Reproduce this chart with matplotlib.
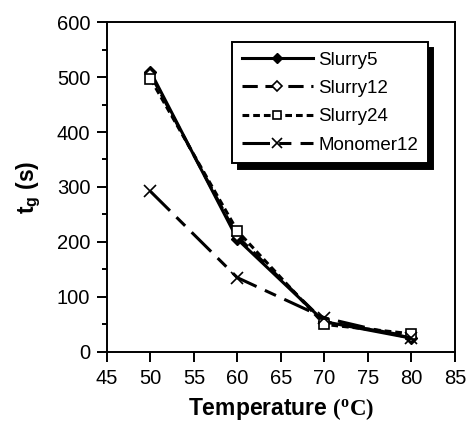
import numpy as np
import matplotlib
matplotlib.use('Agg')
import matplotlib.pyplot as plt
from matplotlib.ticker import MultipleLocator

plt.rcParams.update({
    'font.family': ['Liberation Sans', 'DejaVu Sans'],
    'font.size': 13,
    'mathtext.fontset': 'custom',
    'mathtext.rm': 'Liberation Sans:bold',
    'mathtext.bf': 'Liberation Serif:bold',
    'axes.linewidth': 1.4,
})

# 数据
temperature = [50, 60, 70, 80]
slurry5 = [510, 205, 55, 25]
slurry12 = [505, 210, 55, 28]
slurry24 = [497, 220, 50, 33]
monomer12 = [292, 135, 62, 25]

fig = plt.figure(figsize=(4.67, 4.24), dpi=100)
ax = fig.add_axes([0.229, 0.170, 0.745, 0.778])

ax.plot(temperature, slurry5, color='black', lw=2.2, ls='-',
        marker='D', ms=6.5, mfc='black', mec='black', label='Slurry5')
ax.plot(temperature, slurry12, color='black', lw=2.2, ls=(0, (5, 2.5)),
        marker='D', ms=5.5, mfc='white', mec='black', mew=1.2, label='Slurry12')
ax.plot(temperature, slurry24, color='black', lw=2.2, ls=(0, (2.2, 1.3)),
        marker='s', ms=7, mfc='white', mec='black', mew=1.2, label='Slurry24')
ax.plot(temperature, monomer12, color='black', lw=2.2, ls=(0, (9, 3, 4, 3)),
        marker='x', ms=8.5, mew=1.2, label='Monomer12')

ax.set_xlim(45, 85)
ax.set_ylim(0, 600)
ax.xaxis.set_major_locator(MultipleLocator(5))
ax.yaxis.set_major_locator(MultipleLocator(100))
ax.yaxis.set_minor_locator(MultipleLocator(50))
ax.tick_params(which='major', direction='out', length=7, width=1.4, labelsize=14.5, pad=5)
ax.tick_params(which='minor', direction='out', length=3.5, width=1.4)
ax.tick_params(axis='x', which='minor', bottom=False)

ax.set_xlabel(r'Temperature $\mathbf{(^{o}C)}$', fontsize=16.5, fontweight='bold', labelpad=6)
ax.set_ylabel(r'$\mathrm{t_g}$ (s)', fontsize=16.5, fontweight='bold', labelpad=10)

leg = ax.legend(loc='upper right', bbox_to_anchor=(0.922, 0.939), frameon=True,
                fancybox=False, shadow={'color': 'black', 'alpha': 1.0, 'ox': 4, 'oy': -4},
                fontsize=13.5, handlelength=3.8, handletextpad=0.3, borderpad=0.5,
                labelspacing=0.6, borderaxespad=0, markerscale=0.85)
leg.get_frame().set_edgecolor('black')
leg.get_frame().set_linewidth(1.4)

fig.savefig('out.png', dpi=100)
